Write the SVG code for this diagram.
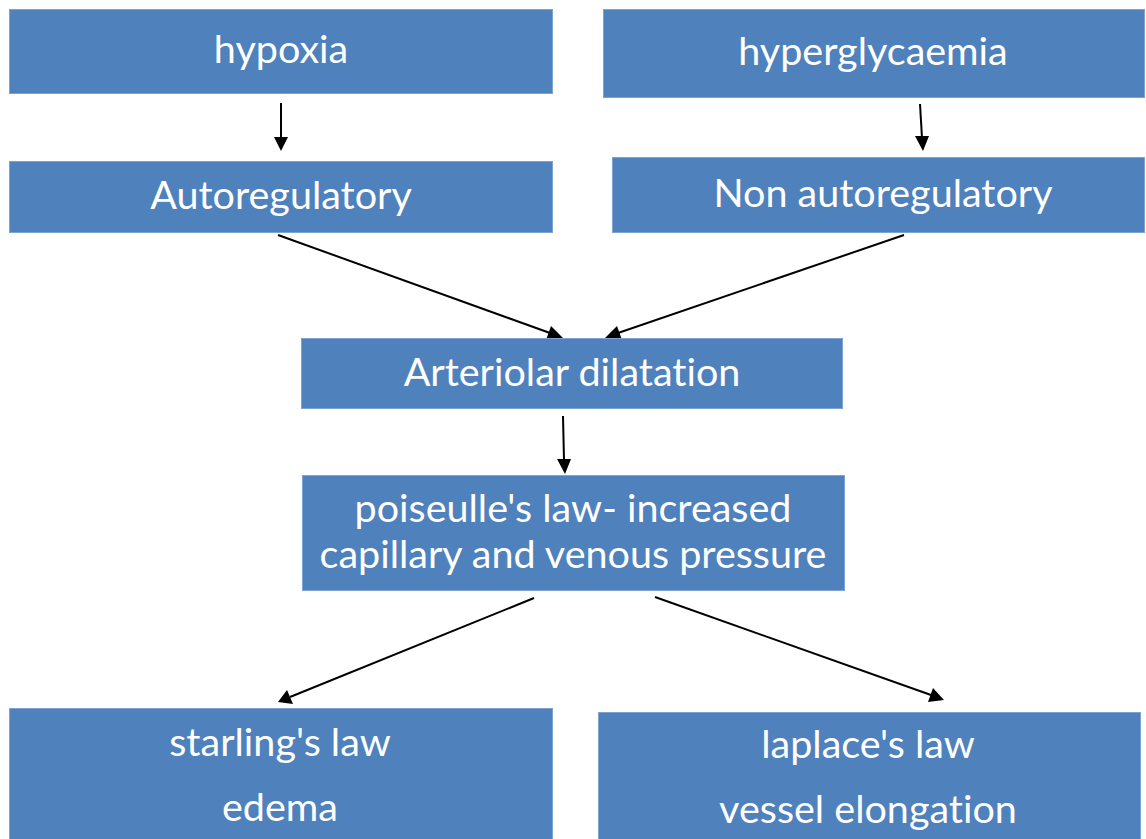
<svg xmlns="http://www.w3.org/2000/svg" width="1146" height="839" viewBox="0 0 1146 839">
<defs>
<style>
.box{fill:#4F81BD;stroke:#7FA3D0;stroke-width:1}
.t{fill:#fff;font-family:Lato,"Open Sans",sans-serif;font-size:39.5px;text-anchor:middle;font-variant-ligatures:none;font-feature-settings:"liga" 0,"clig" 0}
</style>
</defs>
<rect width="1146" height="839" fill="#fff"/>
<g id="connectors" stroke="#000" stroke-width="2">
<line x1="281" y1="103" x2="281" y2="138"/>
<path d="M274,137 L288,137 L281,151 z" stroke="none"/>
<line x1="920" y1="104" x2="922" y2="138"/>
<path d="M915,136 L929,136 L923,151 z" stroke="none"/>
<line x1="278" y1="235" x2="550" y2="333"/>
<path d="M563,338 L546,340 L551,326 z" stroke="none"/>
<line x1="904" y1="235" x2="618" y2="333"/>
<path d="M605,338 L617,326 L622,340 z" stroke="none"/>
<line x1="563" y1="416" x2="564" y2="460"/>
<path d="M557,459 L571,459 L565,474 z" stroke="none"/>
<line x1="534" y1="598" x2="290" y2="697"/>
<path d="M278,702 L287,690 L293,704 z" stroke="none"/>
<line x1="655" y1="597" x2="931" y2="695"/>
<path d="M944,700 L928,702 L933,688 z" stroke="none"/>
</g>
<g id="n-hypoxia"><rect class="box" x="9.5" y="9.5" width="543" height="84"/><text class="t" x="281" y="63">hypoxia</text></g>
<g id="n-hyperglycaemia"><rect class="box" x="603.5" y="9.5" width="541" height="88"/><text class="t" x="873" y="65">hyperglycaemia</text></g>
<g id="n-auto"><rect class="box" x="9.5" y="161.5" width="543" height="71"/><text class="t" x="281" y="209">Autoregulatory</text></g>
<g id="n-nonauto"><rect class="box" x="612.5" y="157.5" width="532" height="75"/><text class="t" x="883" y="207">Non autoregulatory</text></g>
<g id="n-arteriolar"><rect class="box" x="301.5" y="338.5" width="541" height="70"/><text class="t" x="572" y="386">Arteriolar dilatation</text></g>
<g id="n-poiseulle"><rect class="box" x="302.5" y="475.5" width="542" height="115"/><text class="t" x="573" y="522">poiseulle's law- increased</text><text class="t" x="573" y="568">capillary and venous pressure</text></g>
<g id="n-starling"><rect class="box" x="9.5" y="708.5" width="543" height="140"/><text class="t" x="280" y="756">starling's law</text><text class="t" x="280" y="821">edema</text></g>
<g id="n-laplace"><rect class="box" x="598.5" y="712.5" width="542" height="140"/><text class="t" x="868" y="758">laplace's law</text><text class="t" x="868" y="823">vessel elongation</text></g>
</svg>
